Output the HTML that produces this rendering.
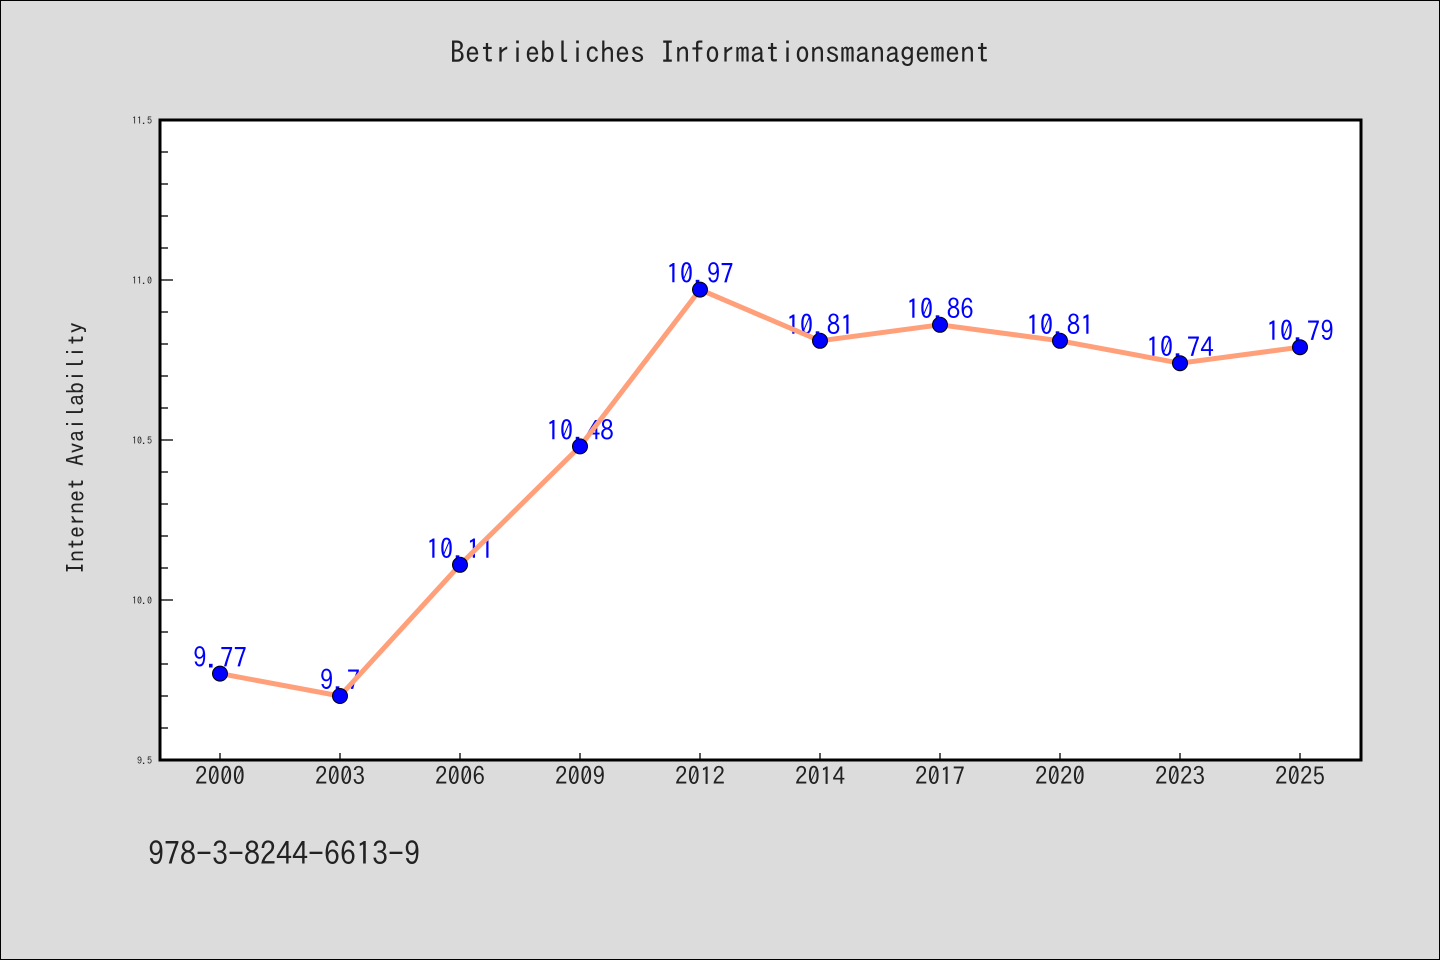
<!DOCTYPE html>
<html><head><meta charset="utf-8"><style>
html,body{margin:0;padding:0;background:#dcdcdc}
svg{display:block}
text{font-family:"IPAGothic","WenQuanYi Zen Hei","Noto Sans CJK JP",monospace}
</style></head><body>
<svg width="1440" height="960" viewBox="0 0 1440 960">
<rect x="0.5" y="0.5" width="1439" height="959" fill="#dcdcdc" stroke="#000"/>
<text x="720" y="63" text-anchor="middle" font-size="30" fill="#222">Betriebliches Informationsmanagement</text>
<rect x="160" y="120" width="1201" height="640" fill="#fff"/>
<g id="yaxis"></g><g id="xaxis"></g><g id="labels"></g><g id="series"></g><g id="markers"></g>
<rect x="160" y="120" width="1201" height="640" fill="none" stroke="#000" stroke-width="3"/>
<text transform="translate(84,448) rotate(-90)" text-anchor="middle" font-size="24" fill="#222">Internet Availability</text>
<text x="148" y="865" font-size="32" fill="#222">978-3-8244-6613-9</text>
</svg>
<script>
const categories=["2000","2003","2006","2009","2012","2014","2017","2020","2023","2025"];
const values=[9.77,9.70,10.11,10.48,10.97,10.81,10.86,10.81,10.74,10.79];
const valueLabels=["9.77","9.7","10.11","10.48","10.97","10.81","10.86","10.81","10.74","10.79"];
const yTicks=[9.5,10.0,10.5,11.0,11.5];
const yMin=9.5,yMax=11.5;
const NS="http://www.w3.org/2000/svg";
const X=i=>220+i*120;
const Y=v=>760-(v-yMin)/(yMax-yMin)*640;
function mk(tag,attrs,parent,txt){const e=document.createElementNS(NS,tag);for(const k in attrs)e.setAttribute(k,attrs[k]);if(txt!==undefined)e.textContent=txt;document.getElementById(parent).appendChild(e);return e;}
for(let v=yMin;v<=yMax+1e-9;v+=0.1){
  const major=yTicks.some(t=>Math.abs(t-v)<1e-6);
  const t=mk('line',{x1:160,x2:160+(major?13:8),y1:Y(v),y2:Y(v),stroke:'#000','stroke-width':1.3},'yaxis');
  
  
}
yTicks.forEach(v=>{
  const t=mk('text',{x:152,y:Y(v)+4,'text-anchor':'end','font-size':10,fill:'#222'},'yaxis',v.toFixed(1));
  
  
});
categories.forEach((c,i)=>{
  const l=mk('line',{x1:X(i),x2:X(i),y1:760,y2:753,stroke:'#000','stroke-width':1.3},'xaxis');
  
  
  const t=mk('text',{x:X(i),y:785,'text-anchor':'middle','font-size':25,fill:'#222'},'xaxis',c);
  
  
});
values.forEach((v,i)=>{
  const t=mk('text',{x:X(i),y:Y(v)-6,'text-anchor':'middle','font-size':27,fill:'#0000ff'},'labels',valueLabels[i]);
  
  
});
const p=mk('polyline',{points:values.map((v,i)=>X(i)+','+Y(v)).join(' '),fill:'none',stroke:'#ffa07a','stroke-width':5,'stroke-linejoin':'round'},'series');


values.forEach((v,i)=>{
  const c=mk('circle',{cx:X(i),cy:Y(v),r:7.5,fill:'#0000ff',stroke:'#000','stroke-width':1},'markers');
  
  
});
</script>
</body></html>
